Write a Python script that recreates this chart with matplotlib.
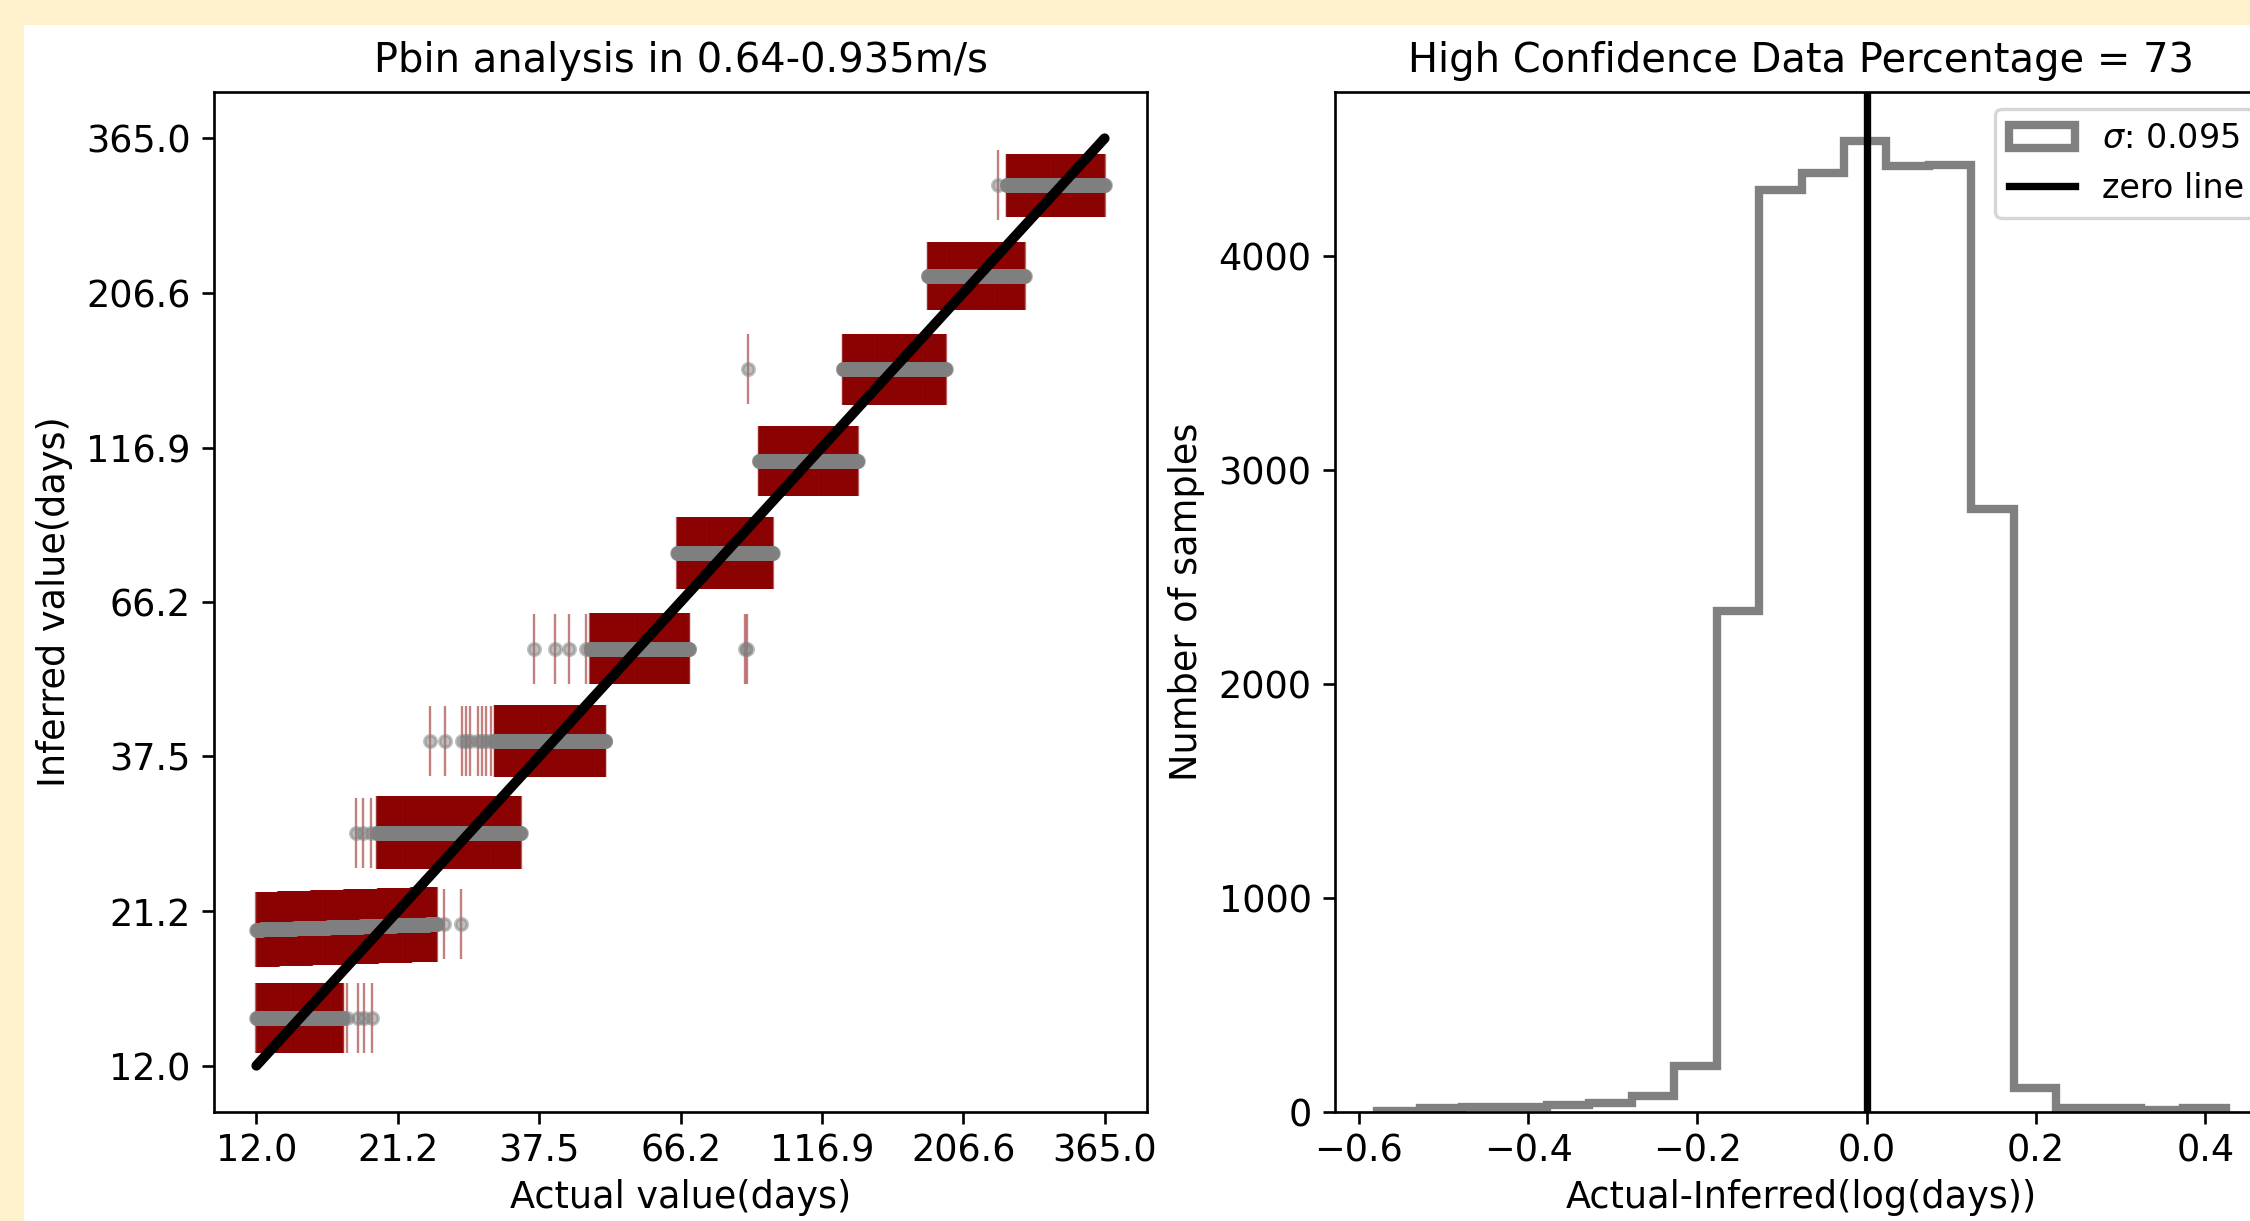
import numpy as np
import matplotlib.pyplot as plt
from matplotlib.patches import Rectangle

# left panel: each block = predictions for one period bin (days)
block_start = [12.0, 12.0, 19.5, 31.3, 46.0, 65.3, 90.7, 127.2, 179.1, 246.0]
block_end = [17.0, 24.8, 34.8, 48.9, 68.5, 96.0, 135.1, 192.5, 264.5, 365.0]
inferred_lo = [14.3, 19.8, 28.3, 39.7, 55.7, 79.3, 111.2, 156.0, 219.7, 307.0]
inferred_hi = [14.3, 20.2, 28.3, 39.7, 55.7, 79.3, 111.2, 156.0, 219.7, 307.0]
block_err = [0.056, 0.060, 0.058, 0.058, 0.057, 0.058, 0.056, 0.057, 0.054, 0.050]  # log10(days)

# isolated predictions outside the dense blocks
outlier_actual = [17.3, 18.1, 18.5, 19.1,
                  25.5, 27.4,
                  17.9, 18.4, 19.0,
                  24.1, 25.6, 27.5, 27.9, 28.4, 29.3, 29.8, 30.3, 30.8,
                  36.7, 40.0, 42.3, 45.2, 85.8, 86.5,
                  86.8,
                  237.2]
outlier_inferred = [14.3, 14.3, 14.3, 14.3,
                    20.2, 20.2,
                    28.3, 28.3, 28.3,
                    39.7, 39.7, 39.7, 39.7, 39.7, 39.7, 39.7, 39.7, 39.7,
                    55.7, 55.7, 55.7, 55.7, 55.7, 55.7,
                    156.0,
                    307.0]
outlier_err = 0.056

tick_days = [12.0, 21.2, 37.5, 66.2, 116.9, 206.6, 365.0]
tick_labels = ["12.0", "21.2", "37.5", "66.2", "116.9", "206.6", "365.0"]

# right panel: residual histogram
hist_counts = [5, 17, 23, 23, 34, 42, 73, 213, 2340, 4310,
               4390, 4540, 4420, 4425, 2820, 112, 17, 17, 9, 17]
hist_lo, hist_hi = -0.578, 0.424
sigma = 0.095
confidence_pct = 73

DPI = 240
plt.rcParams['font.size'] = 11
plt.rcParams['axes.titlesize'] = 12
plt.rcParams['legend.fontsize'] = 10
plt.rcParams['xtick.major.pad'] = 2.5
plt.rcParams['axes.labelpad'] = 3

fig = plt.figure(figsize=(2250 / DPI, 1221 / DPI), dpi=DPI)
fig.patch.set_facecolor('#fff2cc')
fig.patches.append(Rectangle((24 / 2250, 0), 1, 1 - 25 / 1221, transform=fig.transFigure,
                             facecolor='white', edgecolor='none', zorder=-1))

ax1 = fig.add_axes([214 / 2250, 109 / 1221, 933 / 2250, 1020 / 1221])
ax2 = fig.add_axes([1335 / 2250, 109 / 1221, 933 / 2250, 1020 / 1221])

# build all points of the left panel in log10 space
xs, ys, es = [], [], []
for s, e, lo, hi, err in zip(block_start, block_end, inferred_lo, inferred_hi, block_err):
    n = int((np.log10(e) - np.log10(s)) * 1500)
    xs.append(np.linspace(np.log10(s), np.log10(e), n))
    ys.append(np.linspace(np.log10(lo), np.log10(hi), n))
    es.append(np.full(n, err))
xs.append(np.log10(outlier_actual))
ys.append(np.log10(outlier_inferred))
es.append(np.full(len(outlier_actual), outlier_err))
xs = np.concatenate(xs)
ys = np.concatenate(ys)
es = np.concatenate(es)

ax1.errorbar(xs, ys, yerr=es, fmt='.', color='grey', ecolor='darkred',
             elinewidth=0.7, markersize=7, alpha=0.5)
ends = np.log10([tick_days[0], tick_days[-1]])
ax1.plot(ends, ends, color='k', lw=3, solid_capstyle='round', zorder=3)
ax1.set_xticks(np.log10(tick_days))
ax1.set_xticklabels(tick_labels)
ax1.set_yticks(np.log10(tick_days))
ax1.set_yticklabels(tick_labels)
ax1.set_xlabel('Actual value(days)')
ax1.set_ylabel('Inferred value(days)', labelpad=4)
ax1.set_title('Pbin analysis in 0.64-0.935m/s')

edges = np.linspace(hist_lo, hist_hi, len(hist_counts) + 1)
ax2.hist(edges[:-1], bins=edges, weights=hist_counts, histtype='step',
         color='grey', lw=2.5, label=r'$\sigma$: ' + str(sigma))
ax2.axvline(0, color='k', lw=2.2, label='zero line')
ax2.set_xlabel('Actual-Inferred(log(days))')
ax2.set_ylabel('Number of samples', labelpad=4)
ax2.set_title('High Confidence Data Percentage = ' + str(confidence_pct))
ax2.legend(loc='upper right', bbox_to_anchor=(1 + 6 / 933, 1))

fig.savefig('out.png', dpi=DPI, facecolor=fig.get_facecolor())
